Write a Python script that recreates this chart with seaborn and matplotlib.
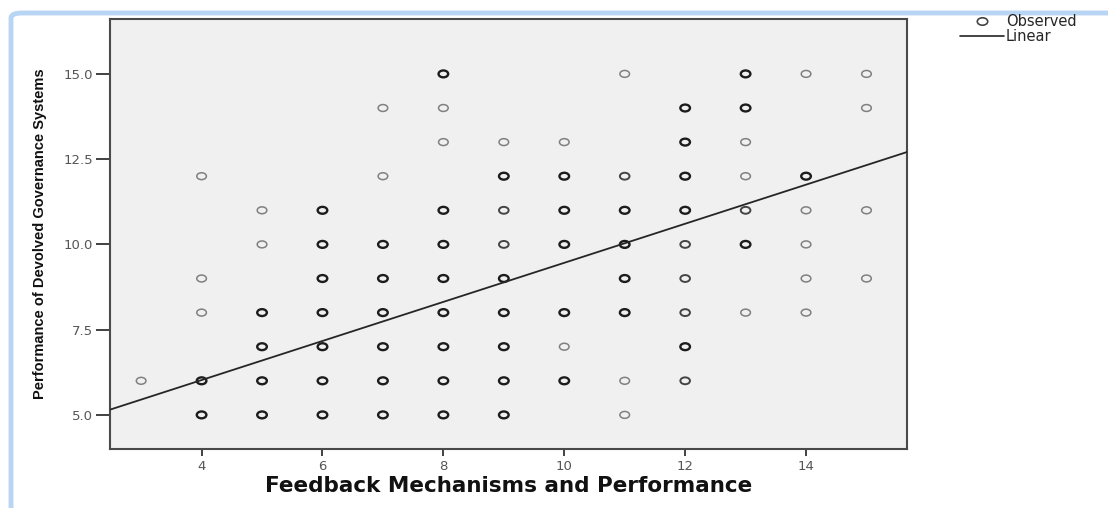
import numpy as np
import pandas as pd
import matplotlib
matplotlib.use('Agg')
import matplotlib.pyplot as plt
import seaborn as sns
from matplotlib.lines import Line2D
from matplotlib.patches import FancyBboxPatch
from matplotlib.path import Path
from matplotlib.transforms import Affine2D

# observed points (x, y) and how dark the circle looks (1 light .. 3 dark = overlapping cases)
obs_x = [3,
         4, 4, 4, 4, 4,
         5, 5, 5, 5, 5, 5,
         6, 6, 6, 6, 6, 6, 6,
         7, 7, 7, 7, 7, 7, 7, 7,
         8, 8, 8, 8, 8, 8, 8, 8, 8, 8,
         9, 9, 9, 9, 9, 9, 9, 9, 9,
         10, 10, 10, 10, 10, 10, 10,
         11, 11, 11, 11, 11, 11, 11, 11,
         12, 12, 12, 12, 12, 12, 12, 12, 12,
         13, 13, 13, 13, 13, 13, 13,
         14, 14, 14, 14, 14, 14,
         15, 15, 15, 15]
obs_y = [6,
         12, 9, 8, 6, 5,
         11, 10, 8, 7, 6, 5,
         11, 10, 9, 8, 7, 6, 5,
         14, 12, 10, 9, 8, 7, 6, 5,
         15, 14, 13, 11, 10, 9, 8, 7, 6, 5,
         13, 12, 11, 10, 9, 8, 7, 6, 5,
         13, 12, 11, 10, 8, 7, 6,
         15, 12, 11, 10, 9, 8, 6, 5,
         14, 13, 12, 11, 10, 9, 8, 7, 6,
         15, 14, 13, 12, 11, 10, 8,
         15, 12, 11, 10, 9, 8,
         15, 14, 11, 9]
obs_n = [1,
         1, 1, 1, 3, 3,
         1, 1, 3, 3, 3, 3,
         3, 3, 3, 3, 3, 3, 3,
         1, 1, 3, 3, 3, 3, 3, 3,
         3, 1, 1, 3, 3, 3, 3, 3, 3, 3,
         1, 3, 2, 2, 3, 3, 3, 3, 3,
         1, 3, 3, 3, 3, 1, 3,
         1, 2, 3, 3, 3, 3, 1, 1,
         3, 3, 3, 3, 2, 2, 2, 3, 2,
         3, 3, 1, 1, 2, 3, 1,
         1, 3, 1, 1, 1, 1,
         1, 1, 1, 1]

# linear fit
fit_intercept = 3.73
fit_slope = 0.573

x_ticks = [4, 6, 8, 10, 12, 14]
y_ticks = [5.0, 7.5, 10.0, 12.5, 15.0]

sns.set_style('white')
plt.rcParams['font.family'] = ['DejaVu Sans']

W, H = 1108, 508
fig = plt.figure(figsize=(W / 100, H / 100), dpi=100)

# light blue frame round the picture
frame = FancyBboxPatch((11 / W, -0.1), 1.2, 1.1 - 13 / H,
                       boxstyle='round,pad=0,rounding_size=0.01',
                       transform=fig.transFigure, fill=False,
                       edgecolor='#b9d5f4', linewidth=3.5)
fig.patches.append(frame)

ax = fig.add_axes([110 / W, 1 - 449 / H, 797 / W, 430 / H])
ax.set_facecolor('#f0f0f0')

# the circles in the picture are a bit wider than tall
ring = Path.unit_circle().transformed(Affine2D().scale(1.4, 1.0))

df = pd.DataFrame({'x': obs_x, 'y': obs_y, 'n': obs_n})
shade = {1: '#808080', 2: '#444444', 3: '#1c1c1c'}
widths = {1: 1.1, 2: 1.4, 3: 1.7}
for k, g in df.groupby('n'):
    sns.scatterplot(data=g, x='x', y='y', ax=ax, marker=ring, s=48,
                    facecolor='none', edgecolor=shade[k], linewidth=widths[k],
                    legend=False, zorder=3)

ax.set_xlim(2.485, 15.67)
ax.set_ylim(4.0, 16.61)

xs = np.array(ax.get_xlim())
sns.lineplot(x=xs, y=fit_intercept + fit_slope * xs, ax=ax,
             color='#262626', linewidth=1.3, zorder=4)
ax.set_xlim(2.485, 15.67)

ax.set_xticks(x_ticks)
ax.set_yticks(y_ticks)
ax.set_yticklabels(['%.1f' % v for v in y_ticks])
ax.tick_params(axis='y', direction='out', length=10, width=1.3, color='#333',
               labelsize=9.5, labelcolor='#555', pad=2, left=True)
ax.tick_params(axis='x', direction='out', length=5, width=1.3, color='#333',
               labelsize=9.5, labelcolor='#555', pad=3, bottom=True)
for s in ax.spines.values():
    s.set_color('#4a4a4a')
    s.set_linewidth(1.5)

ax.set_xlabel('Feedback Mechanisms and Performance', fontsize=15.5,
              fontweight='bold', color='#111')
ax.xaxis.set_label_coords(0.5, -0.062)
ax.set_ylabel('Performance of Devolved Governance Systems', fontsize=10.5,
              fontweight='bold', color='#111', fontstretch='condensed',
              family=['Liberation Sans Narrow', 'Liberation Sans', 'DejaVu Sans'])
ax.yaxis.set_label_coords(-0.079, 0.5)

handles = [Line2D([], [], marker=ring, ls='none', mfc='none', mec='#444',
                  mew=1.2, ms=7.5),
           Line2D([], [], color='#222', lw=1.2)]
fig.legend(handles, ['Observed', 'Linear'], loc='upper left',
           bbox_to_anchor=(960 / W, 1 - 14 / H), frameon=False,
           handlelength=3.0, handletextpad=0.15, labelspacing=0.0,
           fontsize=10.5, borderaxespad=0, borderpad=0)

fig.savefig('out.png', dpi=100)
